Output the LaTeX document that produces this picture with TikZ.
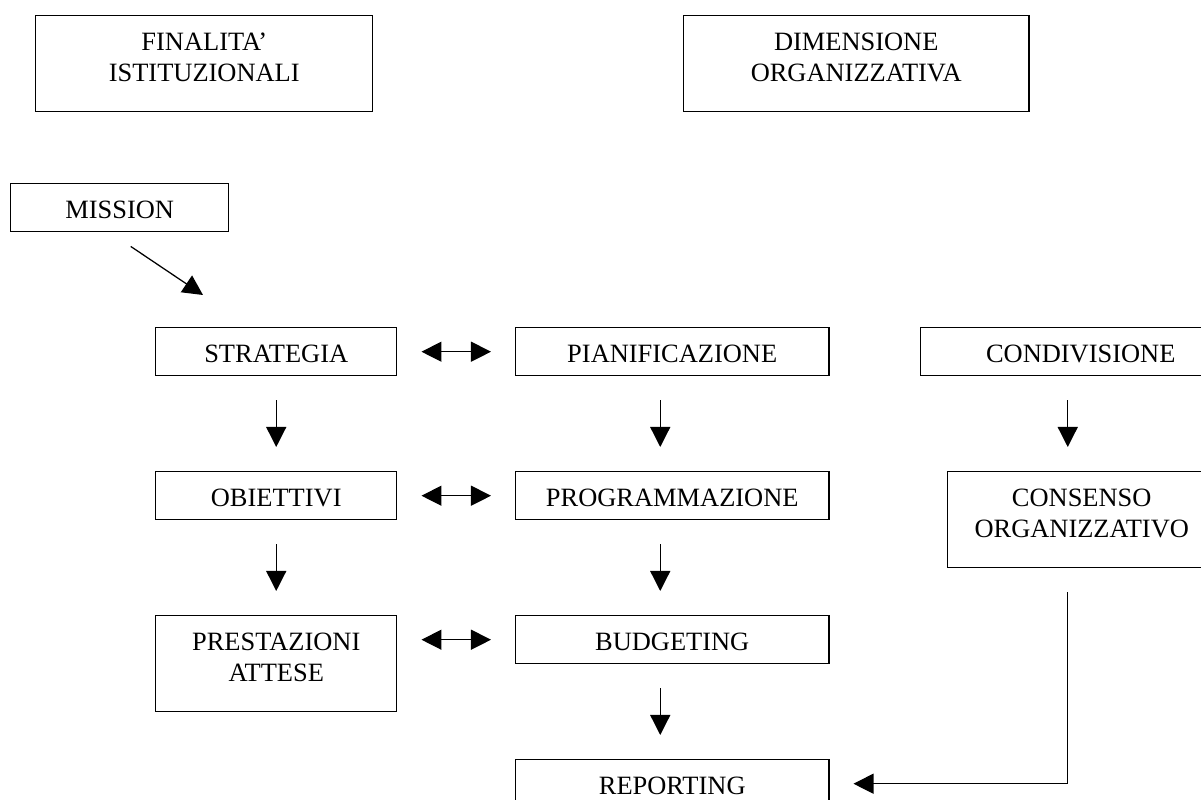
\documentclass[tikz,border=0pt]{standalone}
\usepackage{fontspec}
\setmainfont{Liberation Serif}
\usetikzlibrary{arrows.meta}
\begin{document}
\begin{tikzpicture}[x=0.025cm, y=-0.025cm,
        box/.style={draw, line width=1pt, inner sep=0pt, align=center, anchor=north west,
            font=\fontsize{18.8}{22.2}\selectfont, text height=0.875cm, text depth=0.325cm},
        tall/.style={text depth=1.525cm},
        arr/.style={-{Triangle[length=0.5cm, width=0.5cm]}, line width=0.9pt,
            shorten <=0.6cm, shorten >=0.6cm},
        both/.style={arr, {Triangle[length=0.5cm, width=0.5cm]}-{Triangle[length=0.5cm, width=0.5cm]}}]

        \path[use as bounding box, fill=white] (0, 0) rectangle (1201, 800);
        \clip (0, 0) rectangle (1201, 800);

        % top row
        \node[box, tall, text width=8.425cm] (fin) at (35, 15) {FINALITA’\\ISTITUZIONALI};
        \node[box, tall, text width=8.625cm] (dim) at (683, 15) {DIMENSIONE\\ORGANIZZATIVA};

        \node[box, text width=5.45cm] (mis) at (10, 183) {MISSION};

        % left column
        \node[box, text width=6.025cm] (strat) at (155, 327) {STRATEGIA};
        \node[box, text width=6.025cm] (obj) at (155, 471) {OBIETTIVI};
        \node[box, tall, text width=6.025cm] (prest) at (155, 615) {PRESTAZIONI\\ATTESE};

        % middle column
        \node[box, text width=7.825cm] (pian) at (515, 327) {PIANIFICAZIONE};
        \node[box, text width=7.825cm] (prog) at (515, 471) {PROGRAMMAZIONE};
        \node[box, text width=7.825cm] (budg) at (515, 615) {BUDGETING};
        \node[box, text width=7.825cm] (rep) at (515, 759) {REPORTING};

        % right column
        \node[box, text width=8cm] (cond) at (920, 327) {CONDIVISIONE};
        \node[box, tall, text width=6.7cm] (cons) at (947, 471) {CONSENSO\\ORGANIZZATIVO};

        \draw[arr, shorten <=0pt, shorten >=0pt] ([shift={(11, 14)}]mis.south) -- ([shift={(48, -32)}]strat.north west);

        \draw[arr] (strat.south) -- (obj.north);
        \draw[arr] (obj.south) -- (prest.north);

        \draw[arr] ([xshift=-0.3cm]pian.south) -- ([xshift=-0.3cm]prog.north);
        \draw[arr] ([xshift=-0.3cm]prog.south) -- ([xshift=-0.3cm]budg.north);
        \draw[arr] ([xshift=-0.3cm]budg.south) -- ([xshift=-0.3cm]rep.north);

        \draw[arr] ([xshift=-0.325cm]cond.south) -- ([xshift=-0.325cm]cond.south |- cons.north);

        \draw[both] (strat.east) -- (pian.west);
        \draw[both] (obj.east) -- (prog.west);
        \draw[both] (prest.east |- budg.west) -- (budg.west);

        \draw[arr] ([xshift=-0.35cm]cons.south) |- (rep.east);

    \end{tikzpicture}
\end{document}
